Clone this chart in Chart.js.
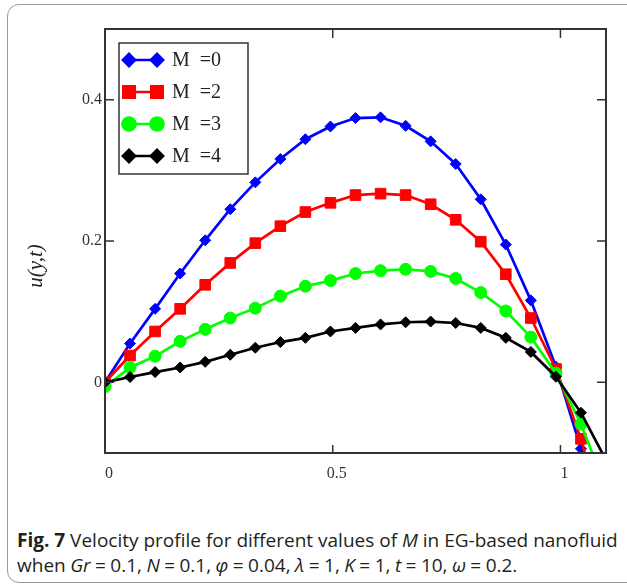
<!DOCTYPE html>
<html>
<head>
<meta charset="utf-8">
<script src="https://cdn.jsdelivr.net/npm/chart.js@4.4.1/dist/chart.umd.min.js"></script>
<style>
  html, body { margin: 0; padding: 0; background: #fff; }
  body { width: 627px; height: 586px; position: relative; overflow: hidden; }
  #border { position: absolute; left: 7px; top: 4px; width: 660px; height: 577px; border: 1px solid #9a9a9a; border-radius: 12px; }
  #plot { position: absolute; left: 0; top: 0; }
  #caption { position: absolute; left: 17px; top: 528px; font-family: "Open Sans", sans-serif; font-size: 19px; line-height: 25px; color: #231f20; white-space: nowrap; }
  #caption b { font-weight: 700; }
  #caption .l2 { word-spacing: -0.5px; }
</style>
</head>
<body>
<div id="border"></div>
<canvas id="plot" width="627" height="500"></canvas>
<div id="caption"><b>Fig. 7</b> Velocity profile for different values of <i>M</i> in EG-based nanofluid<br><span class="l2">when <i>Gr</i> = 0.1, <i>N</i> = 0.1, <i>φ</i> = 0.04, <i>λ</i> = 1, <i>K</i> = 1, <i>t</i> = 10, <i>ω</i> = 0.2.</span></div>
<script>
// y positions of the markers (x axis of the plot)
const yPos = [0, 0.055, 0.11, 0.165, 0.22, 0.275, 0.33, 0.385, 0.44, 0.495, 0.55,
  0.605, 0.66, 0.715, 0.77, 0.825, 0.88, 0.935, 0.99, 1.045, 1.1];

// u(y,t), one array per M
const uM0 = [0, 0.055, 0.104, 0.154, 0.201, 0.245, 0.283, 0.316, 0.344, 0.362, 0.374,
  0.375, 0.363, 0.341, 0.309, 0.259, 0.195, 0.116, 0.022, -0.094, -0.235];
const uM2 = [0, 0.038, 0.072, 0.104, 0.138, 0.169, 0.197, 0.221, 0.241, 0.254, 0.265,
  0.267, 0.265, 0.252, 0.230, 0.199, 0.153, 0.091, 0.019, -0.080, -0.21];
const uM3 = [-0.006, 0.021, 0.037, 0.058, 0.075, 0.091, 0.105, 0.122, 0.136, 0.144, 0.154,
  0.158, 0.160, 0.157, 0.147, 0.127, 0.101, 0.064, 0.013, -0.059, -0.15];
const uM4 = [0, 0.0075, 0.0145, 0.021, 0.029, 0.039, 0.049, 0.057, 0.063, 0.072, 0.077,
  0.082, 0.085, 0.086, 0.084, 0.077, 0.063, 0.043, 0.008, -0.043, -0.11];

const seriesLabels = ['M  =0', 'M  =2', 'M  =3', 'M  =4'];
const xTicks = [0, 0.5, 1];
const yTicks = [0, 0.2, 0.4];

const serif = '"Liberation Serif", "Times New Roman", serif';

function pts(vals) {
  return vals.map((v, i) => ({ x: yPos[i], y: v }));
}

const framePlugin = {
  id: 'frame',
  afterDatasetsDraw(chart) {
    const { ctx, chartArea: a, scales } = chart;
    ctx.save();
    ctx.strokeStyle = '#333';
    ctx.lineWidth = 2;
    ctx.strokeRect(a.left, a.top, a.right - a.left, a.bottom - a.top);
    ctx.lineWidth = 1.5;
    ctx.beginPath();
    xTicks.forEach(v => {
      const px = scales.x.getPixelForValue(v);
      ctx.moveTo(px, a.bottom); ctx.lineTo(px, a.bottom - 8);
      ctx.moveTo(px, a.top); ctx.lineTo(px, a.top + 9);
    });
    yTicks.forEach(v => {
      const py = scales.y.getPixelForValue(v);
      ctx.moveTo(a.left, py); ctx.lineTo(a.left + 9, py);
      ctx.moveTo(a.right, py); ctx.lineTo(a.right - 9, py);
    });
    ctx.stroke();

    // axis titles
    ctx.fillStyle = '#222';
    ctx.font = 'italic 21px ' + serif;
    ctx.textAlign = 'center';
    ctx.textBaseline = 'middle';
    ctx.fillText('y', 318, 506);
    ctx.translate(36, 266);
    ctx.rotate(-Math.PI / 2);
    ctx.fillText('u(y,t)', 0, 0);
    ctx.restore();

    // legend box
    const lx = 119, ly = 43, lw = 129, lh = 131, rowGap = 32;
    ctx.save();
    ctx.fillStyle = '#fff';
    ctx.fillRect(lx, ly, lw, lh);
    ctx.strokeStyle = '#333';
    ctx.lineWidth = 1.5;
    ctx.strokeRect(lx, ly, lw, lh);
    chart.data.datasets.forEach((ds, i) => {
      const yy = ly + 17 + i * rowGap;
      ctx.strokeStyle = ds.borderColor;
      ctx.lineWidth = ds.borderWidth;
      ctx.beginPath();
      ctx.moveTo(lx + 5, yy);
      ctx.lineTo(lx + 44, yy);
      ctx.stroke();
      ctx.fillStyle = ds.backgroundColor;
      [lx + 10, lx + 38].forEach(px => {
        Chart.helpers.drawPoint(ctx, {
          pointStyle: ds.pointStyle, radius: ds.pointRadius + 0.5, rotation: 0, borderWidth: 1
        }, px, yy);
      });
      ctx.fillStyle = '#222';
      ctx.font = '20px ' + serif;
      ctx.textAlign = 'left';
      ctx.textBaseline = 'middle';
      ctx.fillText(ds.label, lx + 53, yy + 1);
    });
    ctx.restore();
  }
};

const colors = ['#0000ff', '#ff0000', '#00ff00', '#000000'];
const styles = ['rectRot', 'rect', 'circle', 'rectRot'];
const radii = [5.5, 7.5, 6, 5.5];
const allSeries = [uM0, uM2, uM3, uM4];

new Chart(document.getElementById('plot'), {
  type: 'line',
  data: {
    datasets: allSeries.map((vals, i) => ({
      label: seriesLabels[i],
      data: pts(vals),
      borderColor: colors[i],
      backgroundColor: colors[i],
      borderWidth: 2.7,
      pointStyle: styles[i],
      pointRadius: radii[i],
      pointBorderWidth: 1,
      tension: 0,
      order: 4 - i
    }))
  },
  options: {
    responsive: false,
    animation: false,
    events: [],
    layout: { padding: { left: 0, top: 29, right: 21, bottom: 0 } },
    plugins: { legend: { display: false }, tooltip: { enabled: false } },
    scales: {
      x: {
        type: 'linear',
        min: 0,
        max: 1.1,
        grid: { display: false, drawTicks: false },
        border: { display: false },
        afterFit(scale) { scale.height = 47; },
        afterBuildTicks(scale) { scale.ticks = xTicks.map(v => ({ value: v })); },
        ticks: {
          padding: 11,
          labelOffset: 4,
          color: '#333',
          font: { family: serif, size: 16 },
          callback: v => String(v)
        }
      },
      y: {
        type: 'linear',
        min: -0.1,
        max: 0.5,
        grid: { display: false, drawTicks: false },
        border: { display: false },
        afterFit(scale) { scale.width = 105; },
        afterBuildTicks(scale) { scale.ticks = yTicks.map(v => ({ value: v })); },
        ticks: {
          padding: 3,
          color: '#333',
          font: { family: serif, size: 16 },
          callback: v => String(v)
        }
      }
    }
  },
  plugins: [framePlugin]
});
</script>
</body>
</html>
